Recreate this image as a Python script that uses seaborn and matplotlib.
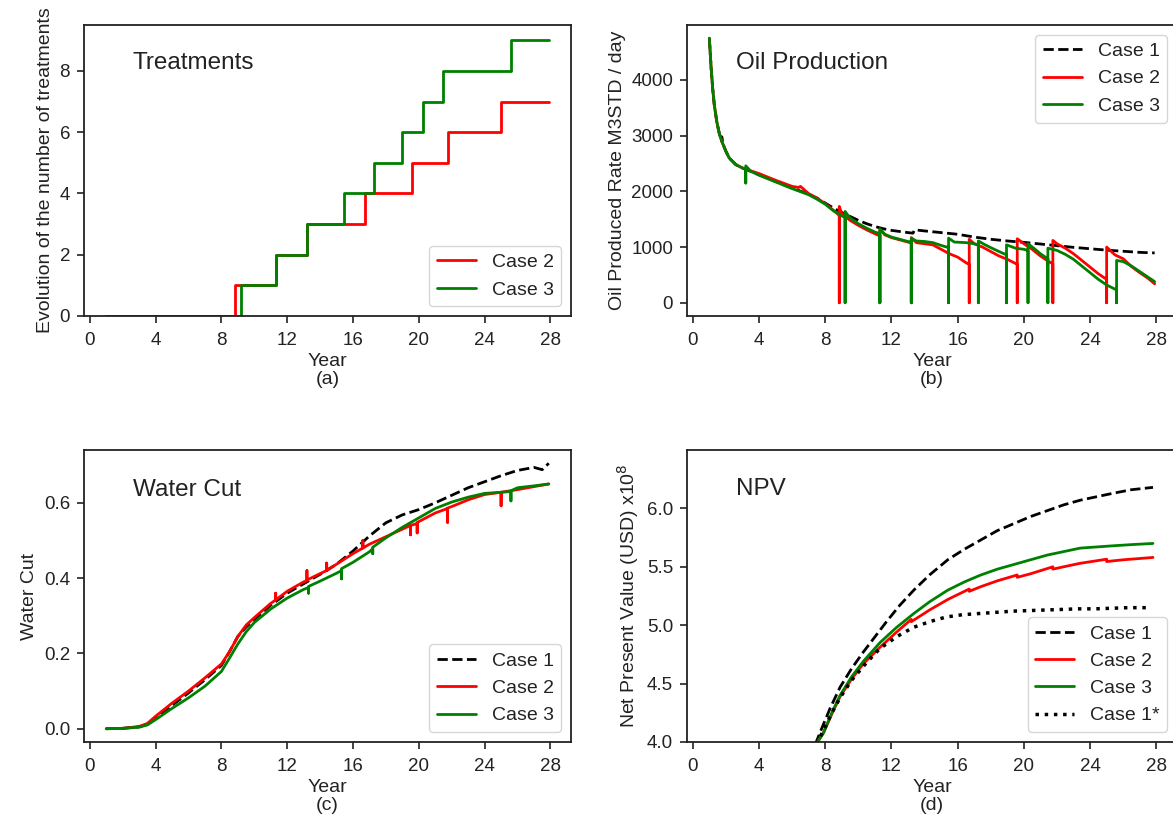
import numpy as np
import pandas as pd
import matplotlib
matplotlib.use("Agg")
import matplotlib.pyplot as plt
import seaborn as sns

# ---------------- data ----------------
# (a) number of treatments (step curves)
treat_year_2 = [1.0, 8.85, 11.3, 13.2, 16.7, 19.6, 21.75, 25.0, 27.9]
treat_count_2 = [0, 1, 2, 3, 4, 5, 6, 7, 7]
treat_year_3 = [1.0, 9.2, 11.3, 13.2, 15.45, 17.25, 18.95, 20.25, 21.45, 25.6, 27.9]
treat_count_3 = [0, 1, 2, 3, 4, 5, 6, 7, 8, 9, 9]

# (b) oil production rate
oil_year_1 = [1.0, 1.1, 1.2, 1.3, 1.45, 1.6, 1.75, 1.75, 1.8, 2.0, 2.2, 2.6, 3.0, 3.5, 4.0, 5.0, 6.0,
              7.0, 7.5, 8.0, 8.5, 9.0, 9.5, 10.0, 10.5, 11.0, 11.5, 12.0, 12.5, 13.0, 13.3, 13.4,
              14.0, 15.0, 16.0, 17.0, 18.0, 19.0, 20.0, 21.0, 22.0, 23.0, 24.0, 25.0, 26.0, 27.0, 27.9]
oil_rate_1 = [4750, 4250, 3850, 3550, 3250, 3040, 2900, 2980, 2870, 2720, 2600, 2480, 2420, 2360, 2300,
              2180, 2060, 1950, 1880, 1790, 1700, 1620, 1550, 1480, 1420, 1370, 1330, 1300, 1280, 1260,
              1250, 1310, 1290, 1260, 1230, 1180, 1140, 1110, 1085, 1055, 1025, 995, 970, 945, 925, 905, 895]

oil_year_2 = [1.0, 1.1, 1.2, 1.3, 1.45, 1.6, 1.75, 2.0, 2.2, 2.6, 3.0, 3.5, 4.0, 5.0, 6.0, 6.4, 6.5,
              7.0, 7.5, 8.0, 8.5, 8.85, 8.85, 8.85, 9.0, 9.5, 10.0, 10.5, 11.0, 11.3, 11.3, 11.3,
              11.6, 12.0, 12.5, 13.0, 13.2, 13.2, 13.2, 13.5, 14.0, 14.5, 15.0, 15.5, 16.0, 16.5,
              16.7, 16.7, 16.7, 17.0, 17.5, 18.0, 18.5, 19.0, 19.6, 19.6, 19.6, 20.0, 20.5, 21.0,
              21.5, 21.75, 21.75, 21.75, 22.0, 22.5, 23.0, 23.5, 24.0, 24.5, 25.0, 25.0, 25.0,
              25.5, 26.0, 26.5, 27.0, 27.5, 27.9]
oil_rate_2 = [4750, 4250, 3850, 3550, 3250, 3040, 2900, 2720, 2600, 2480, 2420, 2370, 2320, 2200, 2090,
              2070, 2090, 1960, 1880, 1780, 1660, 1570, 0, 1730, 1600, 1480, 1390, 1310, 1240, 1200,
              0, 1320, 1220, 1170, 1130, 1090, 1070, 0, 1170, 1080, 1060, 1040, 960, 880, 820, 720,
              690, 0, 1140, 1060, 1000, 920, 840, 780, 690, 0, 1150, 1060, 960, 840, 740, 700, 0,
              1120, 1060, 980, 880, 760, 640, 520, 420, 0, 1000, 860, 790, 650, 540, 440, 340]

oil_year_3 = [1.0, 1.1, 1.2, 1.3, 1.45, 1.6, 1.75, 2.0, 2.2, 2.6, 3.0, 3.2, 3.2, 3.2, 3.5, 4.0, 5.0,
              6.0, 7.0, 7.5, 8.0, 8.5, 9.0, 9.2, 9.2, 9.2, 9.5, 10.0, 10.5, 11.0, 11.3, 11.3, 11.3,
              11.6, 12.0, 12.5, 13.0, 13.2, 13.2, 13.2, 13.5, 14.0, 14.5, 15.0, 15.45, 15.45, 15.45,
              15.8, 16.5, 17.0, 17.25, 17.25, 17.25, 17.6, 18.0, 18.5, 18.95, 18.95, 18.95, 19.5,
              20.0, 20.25, 20.25, 20.25, 20.6, 21.0, 21.45, 21.45, 21.45, 22.0, 22.5, 23.0, 23.5,
              24.0, 24.5, 25.0, 25.6, 25.6, 25.6, 26.0, 26.5, 27.0, 27.5, 27.9]
oil_rate_3 = [4750, 4250, 3850, 3550, 3250, 3040, 2900, 2720, 2600, 2480, 2420, 2390, 2150, 2460, 2360,
              2290, 2170, 2050, 1940, 1860, 1770, 1650, 1560, 1530, 0, 1640, 1520, 1420, 1340, 1270,
              1240, 0, 1330, 1230, 1180, 1140, 1100, 1090, 0, 1160, 1110, 1100, 1080, 1030, 990, 0,
              1160, 1090, 1080, 1060, 1040, 0, 1110, 1050, 990, 920, 860, 0, 1040, 980, 960, 940, 0,
              1060, 980, 880, 790, 0, 980, 940, 870, 780, 660, 540, 420, 320, 230, 0, 760, 740, 660,
              560, 460, 380]

# (c) water cut
wc_year_1 = [1.0, 2.0, 3.0, 3.5, 4.0, 5.0, 6.0, 7.0, 8.0, 8.5, 9.0, 9.5, 10.0, 11.0, 12.0, 13.0, 14.0,
             15.0, 16.0, 17.0, 18.0, 19.0, 20.0, 21.0, 22.0, 23.0, 24.0, 25.0, 26.0, 27.0, 27.5, 27.9]
wc_1 = [0.0, 0.001, 0.005, 0.012, 0.028, 0.062, 0.095, 0.13, 0.168, 0.205, 0.245, 0.27, 0.29, 0.328,
        0.36, 0.385, 0.41, 0.437, 0.472, 0.512, 0.547, 0.568, 0.582, 0.6, 0.62, 0.64, 0.656, 0.672,
        0.686, 0.694, 0.688, 0.705]

wc_year_2 = [1.0, 2.0, 3.0, 3.5, 4.0, 5.0, 6.0, 7.0, 8.0, 8.5, 9.0, 9.5, 10.0, 11.0, 11.3, 11.3, 11.3,
             12.0, 13.0, 13.2, 13.2, 13.2, 14.0, 14.4, 14.4, 14.4, 15.0, 16.0, 16.6, 16.6, 16.6,
             17.0, 18.0, 19.0, 19.5, 19.5, 19.5, 19.9, 19.9, 19.9, 20.0, 21.0, 21.75, 21.75, 21.75,
             22.0, 23.0, 24.0, 25.0, 25.0, 25.0, 26.0, 27.0, 27.9]
wc_2 = [0.0, 0.001, 0.006, 0.014, 0.033, 0.068, 0.1, 0.135, 0.172, 0.205, 0.245, 0.275, 0.295, 0.333,
        0.342, 0.36, 0.342, 0.365, 0.39, 0.393, 0.42, 0.395, 0.412, 0.42, 0.44, 0.42, 0.437, 0.465,
        0.48, 0.5, 0.48, 0.49, 0.51, 0.53, 0.54, 0.515, 0.54, 0.545, 0.52, 0.548, 0.55, 0.573,
        0.585, 0.548, 0.586, 0.59, 0.608, 0.622, 0.628, 0.592, 0.628, 0.635, 0.643, 0.65]

wc_year_3 = [1.0, 2.0, 3.0, 3.5, 4.0, 5.0, 6.0, 7.0, 8.0, 8.5, 9.0, 9.5, 10.0, 11.0, 12.0, 13.0, 13.3,
             13.3, 13.3, 14.0, 15.0, 15.3, 15.3, 15.3, 16.0, 17.0, 17.2, 17.2, 17.2, 18.0, 19.0, 20.0,
             21.0, 22.0, 23.0, 24.0, 25.0, 25.6, 25.6, 25.6, 26.0, 27.0, 27.9]
wc_3 = [0.0, 0.001, 0.004, 0.01, 0.024, 0.054, 0.082, 0.113, 0.152, 0.188, 0.225, 0.257, 0.282, 0.318,
        0.347, 0.37, 0.375, 0.36, 0.378, 0.392, 0.413, 0.42, 0.398, 0.425, 0.442, 0.47, 0.478, 0.465,
        0.482, 0.507, 0.535, 0.56, 0.585, 0.602, 0.615, 0.625, 0.628, 0.63, 0.605, 0.632, 0.64,
        0.645, 0.65]

# (d) NPV (x1e8 USD)
npv_year_1 = [7.4, 7.8, 8.3, 8.9, 9.6, 10.3, 11.0, 11.7, 12.5, 13.35, 14.3, 15.4, 16.4, 17.4, 18.4,
              19.4, 20.4, 21.4, 22.4, 23.4, 24.4, 25.4, 26.5, 27.8]
npv_1 = [3.98, 4.12, 4.29, 4.47, 4.63, 4.77, 4.9, 5.03, 5.17, 5.3, 5.43, 5.56, 5.65, 5.73, 5.81, 5.87,
         5.93, 5.98, 6.03, 6.07, 6.1, 6.13, 6.16, 6.18]

npv_year_2 = [7.45, 7.9, 8.4, 8.9, 9.6, 10.3, 11.3, 12.3, 13.2, 13.2, 14.3, 15.4, 16.7, 16.7, 17.4,
              18.4, 19.6, 19.6, 20.4, 21.75, 21.75, 22.4, 23.4, 25.0, 25.0, 26.0, 27.8]
npv_2 = [3.98, 4.08, 4.24, 4.39, 4.54, 4.67, 4.81, 4.94, 5.05, 5.03, 5.13, 5.22, 5.31, 5.29, 5.33,
         5.38, 5.43, 5.41, 5.44, 5.5, 5.48, 5.5, 5.53, 5.565, 5.545, 5.56, 5.58]

npv_year_3 = [7.45, 7.9, 8.4, 8.9, 9.6, 10.3, 11.3, 12.3, 13.35, 14.3, 15.4, 16.4, 17.4, 18.4, 19.4,
              20.4, 21.4, 22.4, 23.4, 24.4, 25.4, 26.5, 27.8]
npv_3 = [3.98, 4.08, 4.25, 4.4, 4.56, 4.69, 4.85, 4.98, 5.1, 5.2, 5.3, 5.37, 5.43, 5.48, 5.52, 5.56,
         5.6, 5.63, 5.66, 5.67, 5.68, 5.69, 5.7]

npv_year_1s = [7.45, 7.9, 8.4, 8.9, 9.6, 10.5, 11.3, 12.3, 13.3, 14.3, 15.3, 16.3, 17.3, 18.3, 19.3,
               20.3, 21.3, 22.3, 23.3, 24.3, 25.3, 26.3, 27.5]
npv_1s = [3.98, 4.1, 4.25, 4.38, 4.53, 4.68, 4.8, 4.9, 4.98, 5.03, 5.07, 5.09, 5.1, 5.11, 5.12, 5.125,
          5.13, 5.135, 5.14, 5.14, 5.145, 5.15, 5.15]

year_ticks = [0, 4, 8, 12, 16, 20, 24, 28]

# ---------------- style ----------------
sns.set_theme(style="ticks")
plt.rcParams["font.family"] = ["Liberation Sans", "DejaVu Sans"]
plt.rcParams.update({
    "axes.edgecolor": "#222222",
    "axes.linewidth": 1.3,
    "xtick.color": "#222222",
    "ytick.color": "#222222",
    "xtick.major.size": 5,
    "ytick.major.size": 5,
    "xtick.major.width": 1.2,
    "ytick.major.width": 1.2,
    "xtick.major.pad": 6.5,
    "ytick.major.pad": 5,
    "xtick.labelsize": 13.5,
    "ytick.labelsize": 13.5,
    "axes.labelsize": 14,
    "axes.labelcolor": "#222222",
    "text.color": "#222222",
})

RED = "#ff0000"
GREEN = "#008000"
BLACK = "#000000"
LW = 2.0

fig = plt.figure(figsize=(11.73, 8.3), dpi=100)
W, H = 1173.0, 830.0


def rect(left, top, right, bottom):
    return [left / W, 1 - bottom / H, (right - left) / W, (bottom - top) / H]


ax_a = fig.add_axes(rect(84, 25, 571, 316))
ax_b = fig.add_axes(rect(687, 25, 1177, 316))
ax_c = fig.add_axes(rect(84, 450, 571, 742))
ax_d = fig.add_axes(rect(687, 450, 1177, 742))


def draw(ax, x, y, color, label, ls="-", lw=LW, **kw):
    sns.lineplot(x=x, y=y, ax=ax, color=color, linestyle=ls, linewidth=lw, label=label,
                 estimator=None, sort=False, **kw)


# (a)
draw(ax_a, treat_year_2, treat_count_2, RED, "Case 2", drawstyle="steps-post")
draw(ax_a, treat_year_3, treat_count_3, GREEN, "Case 3", drawstyle="steps-post")
ax_a.set_ylim(0, 9.5)
ax_a.set_yticks([0, 2, 4, 6, 8])
ax_a.set_ylabel("Evolution of the number of treatments")
ax_a.set_xlabel("Year\n(a)")
ax_a.legend(loc="lower right", fontsize=14)
ax_a.text(0.10, 0.87, "Treatments", transform=ax_a.transAxes, fontsize=17.5, va="center")

# (b)
draw(ax_b, oil_year_1, oil_rate_1, BLACK, "Case 1", ls="--")
draw(ax_b, oil_year_2, oil_rate_2, RED, "Case 2")
draw(ax_b, oil_year_3, oil_rate_3, GREEN, "Case 3")
ax_b.set_yticks([0, 1000, 2000, 3000, 4000])
ax_b.set_ylabel("Oil Produced Rate M3STD / day")
ax_b.set_xlabel("Year\n(b)")
ax_b.legend(loc="upper right", fontsize=14)
ax_b.text(0.10, 0.87, "Oil Production", transform=ax_b.transAxes, fontsize=17.5, va="center")

# (c)
draw(ax_c, wc_year_1, wc_1, BLACK, "Case 1", ls="--")
draw(ax_c, wc_year_2, wc_2, RED, "Case 2")
draw(ax_c, wc_year_3, wc_3, GREEN, "Case 3")
ax_c.set_yticks([0.0, 0.2, 0.4, 0.6])
ax_c.set_ylabel("Water Cut")
ax_c.set_xlabel("Year\n(c)")
ax_c.legend(loc="lower right", fontsize=14)
ax_c.text(0.10, 0.863, "Water Cut", transform=ax_c.transAxes, fontsize=17.5, va="center")

# (d)
draw(ax_d, npv_year_1, npv_1, BLACK, "Case 1", ls="--")
draw(ax_d, npv_year_2, npv_2, RED, "Case 2")
draw(ax_d, npv_year_3, npv_3, GREEN, "Case 3")
draw(ax_d, npv_year_1s, npv_1s, BLACK, "Case 1*", ls=":", lw=2.5)
ax_d.set_ylim(4.0, 6.5)
ax_d.set_yticks([4.0, 4.5, 5.0, 5.5, 6.0])
ax_d.set_ylabel("Net Present Value (USD) x10$^{8}$")
ax_d.set_xlabel("Year\n(d)")
ax_d.legend(loc="lower right", fontsize=14)
ax_d.text(0.10, 0.865, "NPV", transform=ax_d.transAxes, fontsize=17.5, va="center")

for ax in (ax_a, ax_b, ax_c, ax_d):
    ax.set_xlim(-0.35, 29.25)
    ax.set_xticks(year_ticks)
    for s in ax.spines.values():
        s.set_visible(True)
    ax.tick_params(top=False, right=False)
    ax.xaxis.label.set_linespacing(1.1)
    ax.xaxis.labelpad = 3

fig.savefig("out.png", dpi=100)
